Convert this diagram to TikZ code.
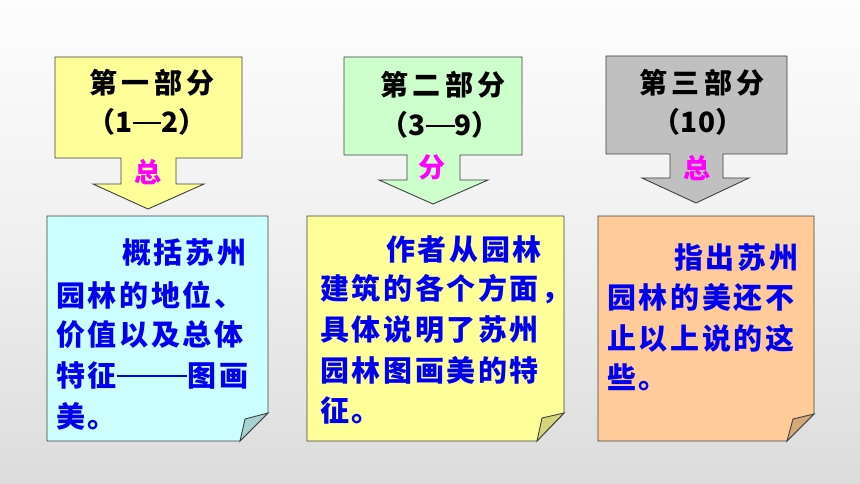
\documentclass[tikz,border=0pt]{standalone}
\usepackage{fontspec}
\newfontfamily\bodyf[LetterSpace=9]{Noto Sans CJK SC}
\newfontfamily\titlef[LetterSpace=15]{Noto Sans CJK SC}
\newfontfamily\labf{Noto Sans CJK SC}
\definecolor{bgtop}{HTML}{FDFDFD}
\definecolor{bgbot}{HTML}{DCDCDC}
\definecolor{cyell}{HTML}{FFFF99}
\definecolor{cgreen}{HTML}{CCFFCC}
\definecolor{cgray}{HTML}{C0C0C0}
\definecolor{ccyan}{HTML}{CCFFFF}
\definecolor{corange}{HTML}{FFCC99}
\definecolor{fcyan}{HTML}{A6D2D2}
\definecolor{fyell}{HTML}{D4D47A}
\definecolor{forange}{HTML}{D4A877}
\definecolor{edge}{HTML}{404040}
\definecolor{txtblue}{HTML}{0000F0}
\definecolor{mag}{HTML}{FF00FF}
\newcommand{\tdash}{\rule[0.3em]{29pt}{2.2pt}}
\begin{document}
\begin{tikzpicture}[x=1pt,y=-1pt,
  shapeline/.style={draw=edge,line width=0.9pt,line join=miter},
  titletxt/.style={inner sep=0pt,font=\titlef\bfseries\fontsize{28}{30}\selectfont,text=black},
  numtxt/.style={inner sep=0pt,font=\labf\bfseries\fontsize{28}{30}\selectfont,text=black},
  labtxt/.style={inner sep=0pt,font=\labf\bfseries\fontsize{27}{30}\selectfont,text=mag},
  bodytxt/.style={inner sep=0pt,anchor=west,font=\bodyf\bfseries\fontsize{29}{32}\selectfont,text=txtblue}]
\useasboundingbox (0,0) rectangle (860,484);
\shade[top color=bgtop,bottom color=bgbot,middle color=bgtop!60!bgbot] (0,0) rectangle (860,484);
% callouts
\filldraw[shapeline,fill=cyell] (55,57) -- (242,57) -- (242,158) -- (176,158) -- (176,184) -- (204,184) -- (148,209) -- (93,184) -- (121,184) -- (121,158) -- (55,158) -- cycle;
\filldraw[shapeline,fill=cgreen] (344,57) -- (522,57) -- (522,155) -- (460,155) -- (460,180) -- (488,180) -- (433,204) -- (379,180) -- (407,180) -- (407,155) -- (344,155) -- cycle;
\filldraw[shapeline,fill=cgray] (606,56) -- (787,56) -- (787,154) -- (723,154) -- (723,178) -- (749,178) -- (696,203) -- (642,178) -- (670,178) -- (670,154) -- (606,154) -- cycle;
% text boxes
\filldraw[shapeline,fill=ccyan] (47,216) -- (268,216) -- (268,413) -- (240,441) -- (47,441) -- cycle;
\filldraw[shapeline,fill=fcyan] (240,441) -- (245,419) -- (268,413) -- cycle;
\filldraw[shapeline,fill=cyell] (307,216) -- (564,216) -- (564,413) -- (537,441) -- (307,441) -- cycle;
\filldraw[shapeline,fill=fyell] (537,441) -- (542,418) -- (564,413) -- cycle;
\filldraw[shapeline,fill=corange] (598,216) -- (814,216) -- (814,414) -- (787,441) -- (598,441) -- cycle;
\filldraw[shapeline,fill=forange] (787,441) -- (793,419) -- (814,414) -- cycle;
% titles
\node[titletxt] (t1a) at (152,83) {第一部分};
\node[numtxt] (t1b) at (147,122) {（1\tdash2）};
\node[titletxt] (t2a) at (443,85) {第二部分};
\node[numtxt] (t2b) at (440,125) {（3\tdash9）};
\node[titletxt] (t3a) at (702,83) {第三部分};
\node[numtxt] (t3b) at (698,122) {（10）};
% labels
\node[labtxt] (l1) at (148,172) {总};
\node[labtxt] (l2) at (432,167) {分};
\node[labtxt] (l3) at (697,168) {总};
% body 1
\node[bodytxt] (a1) at (122,253) {概括苏州};
\node[bodytxt] (a2) at (56,295) {园林的地位、};
\node[bodytxt] (a3) at (56,335) {价值以及总体};
\node[bodytxt] (a4) at (56,375) {特征\rule[0.3em]{70pt}{2.6pt}\hspace{1pt}图画};
\node[bodytxt] (a5) at (56,416) {美。};
% body 2
\node[bodytxt] (b1) at (386,249) {作者从园林};
\node[bodytxt] (b2) at (320,289) {建筑的各个方面，};
\node[bodytxt] (b3) at (320,330) {具体说明了苏州};
\node[bodytxt] (b4) at (320,370) {园林图画美的特};
\node[bodytxt] (b5) at (320,410) {征。};
% body 3
\node[bodytxt] (c1) at (674,258) {指出苏州};
\node[bodytxt] (c2) at (607,298) {园林的美还不};
\node[bodytxt] (c3) at (607,338) {止以上说的这};
\node[bodytxt] (c4) at (607,377) {些。};
\end{tikzpicture}
\end{document}
